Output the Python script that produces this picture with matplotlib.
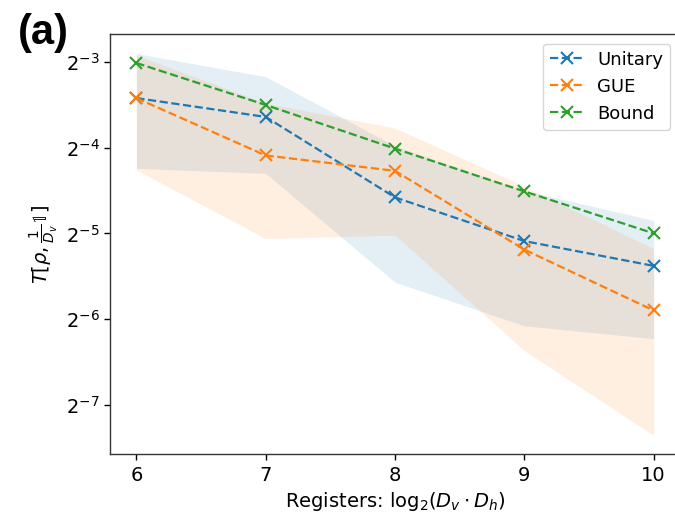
import numpy as np
import matplotlib
matplotlib.use("Agg")
import matplotlib.pyplot as plt

# registers log2(Dv*Dh)
registers = [6, 7, 8, 9, 10]

unitary_exp = [-3.42, -3.64, -4.58, -5.09, -5.38]
gue_exp = [-3.42, -4.09, -4.27, -5.19, -5.90]
bound_exp = [-3.01, -3.50, -4.01, -4.51, -5.00]

unitary_lo_exp = [-4.24, -4.30, -5.57, -6.08, -6.23]
unitary_hi_exp = [-2.90, -3.17, -3.98, -4.50, -4.85]
gue_lo_exp = [-4.26, -5.06, -5.02, -6.37, -7.36]
gue_hi_exp = [-2.92, -3.48, -3.77, -4.45, -5.18]

labels = ["Unitary", "GUE", "Bound"]


def p2(e):
    return np.power(2.0, e)


fig = plt.figure(figsize=(6.75, 5.14), dpi=100)
ax = fig.add_axes([0.1637, 0.1158, 0.843, 0.8171])

ax.fill_between(registers, p2(unitary_lo_exp), p2(unitary_hi_exp),
                color="C0", alpha=0.12, lw=0)
ax.fill_between(registers, p2(gue_lo_exp), p2(gue_hi_exp),
                color="C1", alpha=0.12, lw=0)

for vals, c, lab in zip([unitary_exp, gue_exp, bound_exp], ["C0", "C1", "C2"], labels):
    ax.plot(registers, p2(vals), "--x", color=c, lw=1.6, ms=8, mew=1.5, label=lab)

ax.set_yscale("log", base=2)
ax.set_xticks(registers)
ax.tick_params(labelsize=14, length=4.5, width=1.0)
for s in ax.spines.values():
    s.set_linewidth(1.0)
    s.set_color("#333333")

ax.set_xlabel(r"Registers: $\mathrm{log}_2(D_v \cdot D_h)$", fontsize=14)
ax.set_ylabel(r"$T[\rho, \frac{1}{D_v}\mathbb{1}]$", fontsize=14)

ax.legend(loc="upper right", fontsize=13, handlelength=1.8)

fig.text(0.026, 0.975, "(a)", fontsize=30, fontweight="bold",
         family="Liberation Sans", va="top", ha="left")

fig.savefig("out.png", dpi=100)
